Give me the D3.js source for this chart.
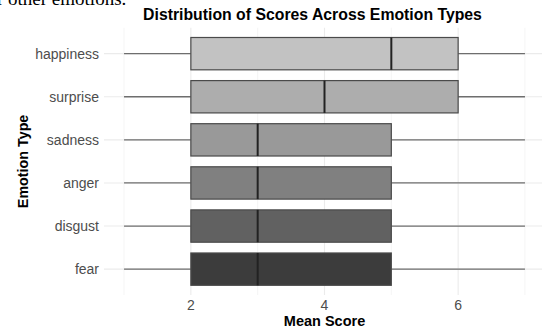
<!DOCTYPE html>
<html><head><meta charset="utf-8">
<script src="https://cdn.jsdelivr.net/npm/d3@7"></script>
<style>body{margin:0;background:#fff;}svg{display:block;}</style>
</head><body>
<svg id="c" width="542" height="333"></svg>
<script>
const categories = ["happiness","surprise","sadness","anger","disgust","fear"];
const minVals    = [1,1,1,1,1,1];
const q1Vals     = [2,2,2,2,2,2];
const medianVals = [5,4,3,3,3,3];
const q3Vals     = [6,6,5,5,5,5];
const maxVals    = [7,7,7,7,7,7];
const fills      = ["#c2c2c2","#adadad","#999999","#808080","#616161","#3c3c3c"];
const xTicks     = [2,4,6];
const xMinor     = [1,3,5,7];

(function(){
const svg = d3.select("#c");
const pL = 104, pR = 545, pT = 27.8, pB = 295;
const x = d3.scaleLinear().domain([0.7,7.3]).range([pL,pR]);
const y = d3.scalePoint().domain(categories).range([pT,pB]).padding(0.6);
const step = y.step();

// cut-off page text
svg.append("text").attr("x",-3).attr("y",5).attr("font-family","Liberation Serif, serif")
  .attr("font-size",19).attr("fill","#000").text("r other emotions.");

// grid
const g = svg.append("g");
g.selectAll(".minor").data(xMinor).join("line")
  .attr("x1",d=>x(d)).attr("x2",d=>x(d)).attr("y1",pT).attr("y2",pB)
  .attr("stroke","#f2f2f2").attr("stroke-width",0.8);
g.selectAll(".major").data(xTicks).join("line")
  .attr("x1",d=>x(d)).attr("x2",d=>x(d)).attr("y1",pT).attr("y2",pB)
  .attr("stroke","#ebebeb").attr("stroke-width",1.1);
g.selectAll(".hmajor").data(categories).join("line")
  .attr("x1",pL).attr("x2",pR).attr("y1",d=>y(d)).attr("y2",d=>y(d))
  .attr("stroke","#ebebeb").attr("stroke-width",1.1);

const data = categories.map((c,i)=>({c,min:minVals[i],q1:q1Vals[i],med:medianVals[i],q3:q3Vals[i],max:maxVals[i],fill:fills[i]}));
const bh = step*0.75;
const b = svg.append("g").selectAll("g").data(data).join("g");
b.append("line").attr("x1",d=>x(d.min)).attr("x2",d=>x(d.q1)).attr("y1",d=>y(d.c)).attr("y2",d=>y(d.c))
  .attr("stroke","#6e6e6e").attr("stroke-width",1.3);
b.append("line").attr("x1",d=>x(d.q3)).attr("x2",d=>x(d.max)).attr("y1",d=>y(d.c)).attr("y2",d=>y(d.c))
  .attr("stroke","#6e6e6e").attr("stroke-width",1.3);
b.append("rect").attr("x",d=>x(d.q1)).attr("width",d=>x(d.q3)-x(d.q1))
  .attr("y",d=>y(d.c)-bh/2).attr("height",bh).attr("fill",d=>d.fill)
  .attr("stroke","#4a4a4a").attr("stroke-width",1.2);
b.append("line").attr("x1",d=>x(d.med)).attr("x2",d=>x(d.med)).attr("y1",d=>y(d.c)-bh/2).attr("y2",d=>y(d.c)+bh/2)
  .attr("stroke","#222").attr("stroke-width",2);

// axes labels
const font = "Liberation Sans, Arial, sans-serif";
svg.append("g").selectAll("text").data(categories).join("text")
  .attr("x",pL-5).attr("y",d=>y(d)).attr("dy","0.36em").attr("text-anchor","end")
  .attr("font-family",font).attr("font-size",14).attr("fill","#4d4d4d").text(d=>d);
svg.append("g").selectAll("text").data(xTicks).join("text")
  .attr("x",d=>x(d)).attr("y",pB+15).attr("text-anchor","middle")
  .attr("font-family",font).attr("font-size",14).attr("fill","#4d4d4d").text(d=>d);

svg.append("text").attr("x",324.5).attr("y",326).attr("text-anchor","middle")
  .attr("font-family",font).attr("font-weight","bold").attr("font-size",14.5).attr("fill","#000").text("Mean Score");
svg.append("text").attr("transform",`translate(28,${(pT+pB)/2}) rotate(-90)`).attr("text-anchor","middle")
  .attr("font-family",font).attr("font-weight","bold").attr("font-size",14.3).attr("fill","#000").text("Emotion Type");
svg.append("text").attr("x",312.5).attr("y",19.5).attr("text-anchor","middle")
  .attr("font-family",font).attr("font-weight","bold").attr("font-size",15.8).attr("fill","#000").text("Distribution of Scores Across Emotion Types");
})();
</script>
</body></html>
